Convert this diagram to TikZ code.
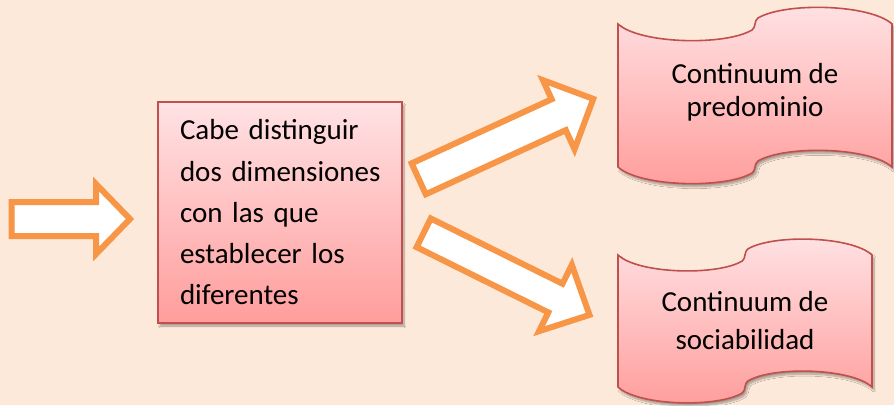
\documentclass[tikz,border=0pt]{standalone}
\usepackage{fontspec}
\setmainfont{Carlito}
\usetikzlibrary{shadows.blur}
\definecolor{peach}{HTML}{FDE9D9}
\definecolor{arroworange}{HTML}{F79646}
\definecolor{boxred}{HTML}{C0504D}
\definecolor{pinktop}{HTML}{FFE2E4}
\definecolor{pinkbot}{HTML}{FF9D9C}
\begin{document}
\begin{tikzpicture}[x=1pt,y=-1pt,
    fatarrow/.style={draw=arroworange,fill=white,line width=6pt,line join=miter},
    pinkfill/.style={draw=boxred,line width=1.6pt,top color=pinktop,bottom color=pinkbot,
      blur shadow={shadow xshift=2pt,shadow yshift=-3pt,shadow opacity=35,shadow blur steps=8}},
    wavetext/.style={font=\fontsize{29}{33}\selectfont,align=center,inner sep=0pt}]
  \useasboundingbox[fill=peach] (0,0) rectangle (894,405);

  % incoming arrow
  \begin{scope}[shift={(11.5,219)}]
    \draw[fatarrow] (0,-17) -- (84.5,-17) -- (84.5,-35) -- (118.5,0) -- (84.5,35) -- (84.5,17) -- (0,17) -- cycle;
  \end{scope}

  \node[pinkfill,minimum width=244pt,minimum height=221pt,text width=200pt,align=left,
    inner xsep=22pt,inner ysep=0pt,font=\fontsize{29}{41.25}\selectfont] (dims) at (280,212.5)
    {\mbox{Cabe distinguir}\\\mbox{dos dimensiones}\\\mbox{con las que}\\\mbox{establecer los}\\\mbox{diferentes}};

  % two branches
  \begin{scope}[shift={(418.7,178.8)},rotate=24.6]
    \draw[fatarrow] (0,-17) -- (154,-17) -- (154,-38) -- (192,0) -- (154,38) -- (154,17) -- (0,17) -- cycle;
  \end{scope}
  \begin{scope}[shift={(423.7,232.8)},rotate=-26.35]
    \draw[fatarrow] (0,-16) -- (147,-16) -- (147,-37) -- (185,0) -- (147,37) -- (147,16) -- (0,16) -- cycle;
  \end{scope}

  % wave shapes
  \begin{scope}[shift={(618,24)}]
    \draw[pinkfill] (0,0) .. controls (22,20) and (107,22) .. (134,6)
      .. controls (138,3.6) and (136,-3.6) .. (140,-6)
      .. controls (167,-22) and (252,-20) .. (274,0) -- (274,143)
      .. controls (252,123) and (167,121) .. (140,137)
      .. controls (136,139.4) and (138,146.6) .. (134,149)
      .. controls (107,165) and (22,163) .. (0,143) -- cycle;
  \end{scope}
  \begin{scope}[shift={(618,255)},xscale=0.927]
    \draw[pinkfill] (0,0) .. controls (22,19) and (107,21) .. (134,6)
      .. controls (138,3.6) and (136,-3.6) .. (140,-6)
      .. controls (167,-21) and (252,-19) .. (274,0) -- (274,132)
      .. controls (252,113) and (167,111) .. (140,126)
      .. controls (136,128.4) and (138,135.6) .. (134,138)
      .. controls (107,153) and (22,151) .. (0,132) -- cycle;
  \end{scope}

  \node[wavetext] (pred) at (755,92) {Continuum de\\predominio};
  \node[wavetext,font=\fontsize{29}{38}\selectfont] (soci) at (745,321) {Continuum de\\sociabilidad};
\end{tikzpicture}
\end{document}
